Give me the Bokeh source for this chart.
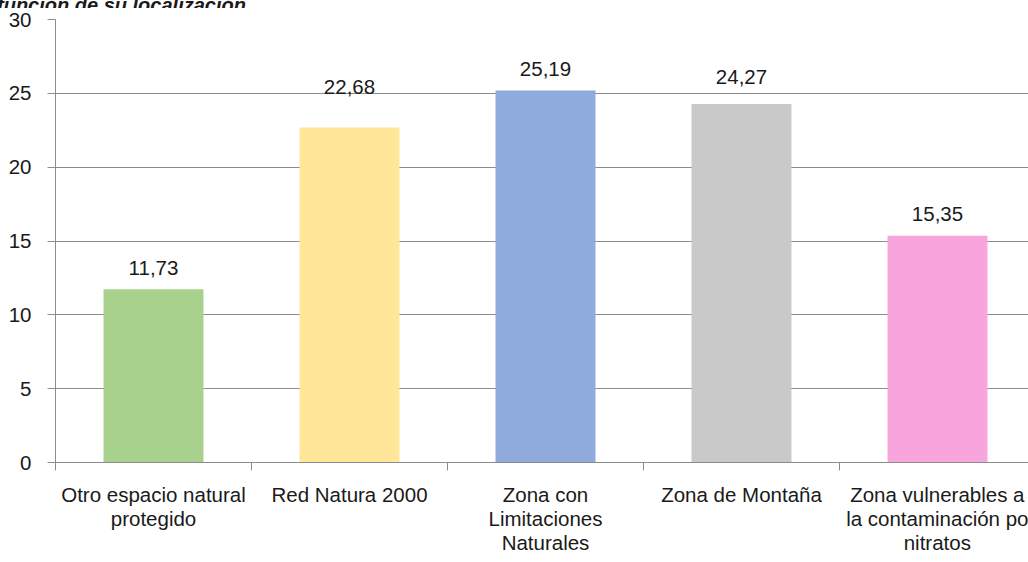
from bokeh.plotting import figure
from bokeh.models import Range1d, FixedTicker, ColumnDataSource, Div
from bokeh.layouts import column
from bokeh.core.properties import value
from bokeh.embed import file_html
from bokeh.resources import INLINE

# ---- data ----
categories = [
    "Otro espacio natural\nprotegido",
    "Red Natura 2000",
    "Zona con\nLimitaciones\nNaturales",
    "Zona de Montaña",
    "Zona vulnerables a\nla contaminación po\nnitratos",
]
values = [11.73, 22.68, 25.19, 24.27, 15.35]
y_ticks = [0, 5, 10, 15, 20, 25, 30]
title_text = "función de su localización"

# ---- styles ----
bar_colors = ["#A9D18E", "#FFE699", "#8FAADC", "#C9C9C9", "#F7A5DC"]
label_offsets = [-21, -41, -22, -27, -22]   # px above bar top (baseline)
FONT = "Liberation Sans"
FS = "20.5px"
GRID = "#8c8c8c"
TXT = "#1a1a1a"

W, H = 1028, 562
STRIP = 8                      # visible strip of the (cropped) title
LEFT, TOP, FRAME_H = 55, 19 - STRIP, 443
CAT_W = 196
PH = H - STRIP

xs = list(range(len(categories)))
labels = [f"{v:.2f}".replace(".", ",") for v in values]

p = figure(
    width=W, height=PH,
    output_backend="svg", toolbar_location=None,
    x_range=Range1d(-0.5, -0.5 + (W - LEFT) / CAT_W), y_range=Range1d(0, 30),
    min_border_left=LEFT, min_border_right=0, min_border_top=TOP,
    min_border_bottom=PH - TOP - FRAME_H,
)
p.outline_line_color = None
p.background_fill_color = "white"
p.border_fill_color = "white"

src = ColumnDataSource(dict(x=xs, top=values, color=bar_colors, label=labels, off=label_offsets))
p.vbar(x="x", top="top", bottom=0, width=0.51, fill_color="color", line_color=None, source=src)
p.text(x="x", y="top", text="label", y_offset="off", source=src,
       text_align="center", text_baseline="alphabetic",
       text_font=value(FONT), text_font_size=FS, text_color=TXT)

# y axis
ya = p.yaxis[0]
ya.ticker = FixedTicker(ticks=y_ticks)
ya.axis_line_color = GRID
ya.major_tick_line_color = GRID
ya.major_tick_out = 8
ya.major_tick_in = 0
ya.minor_tick_line_color = None
ya.major_label_standoff = 16
ya.major_label_text_font = FONT
ya.major_label_text_font_size = FS
ya.major_label_text_color = TXT

# x axis
xa = p.xaxis[0]
xa.ticker = FixedTicker(ticks=xs, minor_ticks=[i - 0.5 for i in range(len(categories) + 1)])
xa.major_label_overrides = {i: c for i, c in zip(xs, categories)}
xa.axis_line_color = GRID
xa.major_tick_line_color = None
xa.major_tick_out = 0
xa.major_tick_in = 0
xa.minor_tick_line_color = GRID
xa.minor_tick_out = 8
xa.minor_tick_in = 0
xa.major_label_standoff = 12
xa.major_label_text_font = FONT
xa.major_label_text_font_size = FS
xa.major_label_text_line_height = 1.05
xa.major_label_text_color = TXT

p.xgrid.grid_line_color = None
p.ygrid.ticker = FixedTicker(ticks=y_ticks)
p.ygrid.grid_line_color = GRID
p.ygrid.grid_line_width = 1

title_html = (
    f'<div style="margin:-15px 0 0 -3px; font: italic bold 20px \'{FONT}\'; '
    f'line-height: 22px; white-space: nowrap; color: {TXT};">{title_text}</div>'
)
title = Div(text=title_html, width=W, height=STRIP, margin=0,
            styles={"overflow": "hidden"})

layout = column(title, p, spacing=0)

open("out.html", "w").write(file_html(layout, INLINE))
